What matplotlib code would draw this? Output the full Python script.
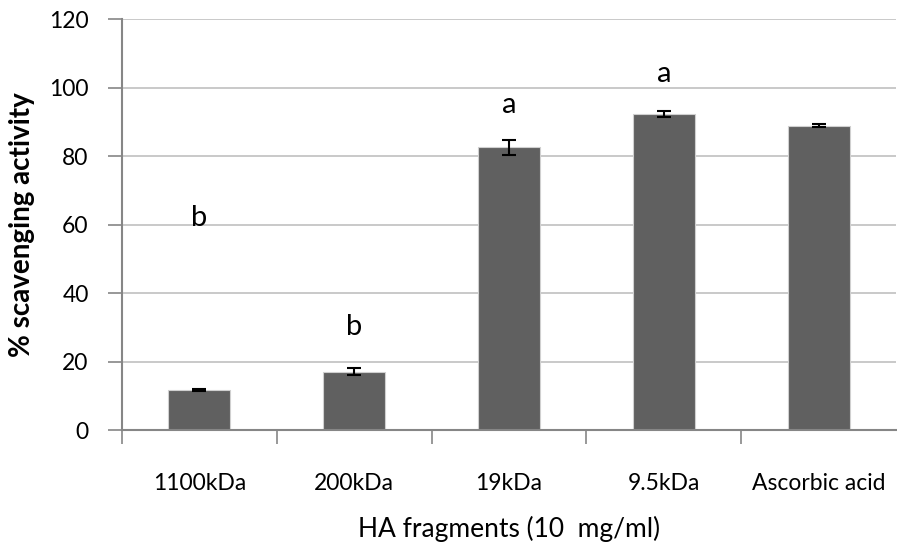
import numpy as np
import matplotlib.pyplot as plt

# datos
categorias = ["1100kDa", "200kDa", "19kDa", "9.5kDa", "Ascorbic acid"]
valores = [11.8, 17.0, 82.5, 92.2, 88.9]
errores = [0.3, 1.0, 2.3, 0.8, 0.4]
letras = ["b", "b", "a", "a", ""]
pos_letras = [62, 30, 95, 104, 0]

plt.rcParams['font.family'] = ['Lato', 'DejaVu Sans']

fig = plt.figure(figsize=(8.97, 5.48), dpi=100)
ax = fig.add_axes([0.136, 0.2153, 0.863, 0.75])

x = np.arange(len(categorias))

# rejilla
ax.set_axisbelow(True)
ax.yaxis.grid(True, color="#c0c0c0", linewidth=1.2)

ax.bar(x, valores, width=0.4, color="#606060", edgecolor="#d0d0d0", linewidth=0.8,
       zorder=2)
ax.errorbar(x, valores, yerr=errores, fmt="none", ecolor="black", elinewidth=1.5,
            capsize=5, capthick=1.5, zorder=3)

for i, (l, p) in enumerate(zip(letras, pos_letras)):
    if l:
        ax.text(x[i], p, l, ha="center", va="center", fontsize=21, color="black")

ax.set_xlim(-0.5, len(categorias) - 0.5)
ax.set_ylim(0, 120)
ax.set_yticks(np.arange(0, 121, 20))

# ejes estilo excel
for s in ["top", "right"]:
    ax.spines[s].set_visible(False)
for s in ["left", "bottom"]:
    ax.spines[s].set_color("#868686")
    ax.spines[s].set_linewidth(1.5)

ax.set_xticks(x)
ax.set_xticklabels(categorias, fontsize=16.5)
ax.tick_params(axis="x", length=0, pad=31)
ax.set_xticks(np.arange(-0.5, len(categorias) - 0.5, 1), minor=True)
ax.tick_params(axis="x", which="minor", length=10, color="#868686", width=1.2)
ax.tick_params(axis="y", labelsize=16.5, length=10, color="#868686", width=1.2, pad=14)

ax.set_ylabel("% scavenging activity", fontsize=20, fontweight="bold", labelpad=10)
ax.set_xlabel("HA fragments (10  mg/ml)", fontsize=19, labelpad=16)

fig.savefig("out.png", dpi=100)
